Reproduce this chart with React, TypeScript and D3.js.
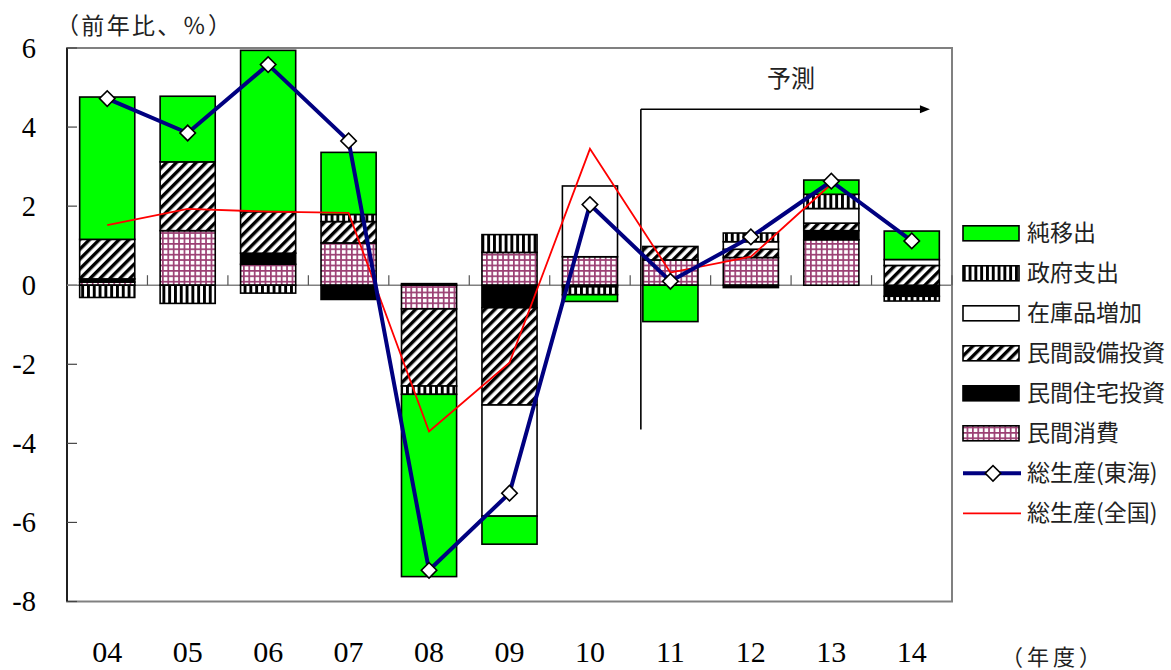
import React from "react";
import * as d3 from "d3";

// Fiscal years (年度)
const years = ["04", "05", "06", "07", "08", "09", "10", "11", "12", "13", "14"];

// Contributions to growth (percentage points), stacked in this order
const consumption = [0.08, 1.38, 0.53, 1.07, -0.6, 0.83, 0.72, 0.64, 0.7, 1.15, 0];
const housing = [0.08, 0, 0.28, -0.36, 0, -0.57, -0.04, 0, -0.06, 0.23, -0.28];
const capex = [1.0, 1.74, 1.05, 0.54, -1.95, -2.46, 0, 0.34, 0.21, 0.19, 0.5];
const inventory = [0, 0, 0, 0, 0.04, -2.81, 1.79, 0, 0.19, 0.37, 0.15];
const government = [-0.31, -0.46, -0.2, 0.18, -0.21, 0.45, -0.2, 0, 0.22, 0.36, -0.12];
const netExports = [3.6, 1.66, 4.08, 1.57, -4.61, -0.71, -0.17, -0.92, 0, 0.36, 0.72];

// Gross production growth (%)
const tokaiGrowth = [4.72, 3.85, 5.58, 3.65, -7.21, -5.26, 2.04, 0.1, 1.22, 2.63, 1.12];
const nationalGrowth = [1.52, 1.93, 1.86, 1.83, -3.7, -1.96, 3.45, 0.32, 0.72, 2.56];

const yTicks = [6, 4, 2, 0, -2, -4, -6, -8];

const seriesKeys = ["consumption", "housing", "capex", "inventory", "government", "netExports"];
const seriesLabels: Record<string, string> = {
  consumption: "民間消費",
  housing: "民間住宅投資",
  capex: "民間設備投資",
  inventory: "在庫品増加",
  government: "政府支出",
  netExports: "純移出",
};
const seriesFill: Record<string, string> = {
  consumption: "url(#pat-grid)",
  housing: "#000000",
  capex: "url(#pat-diag)",
  inventory: "#ffffff",
  government: "url(#pat-vert)",
  netExports: "#00ff00",
};

const table = years.map((yr, i) => ({
  year: yr,
  consumption: consumption[i],
  housing: housing[i],
  capex: capex[i],
  inventory: inventory[i],
  government: government[i],
  netExports: netExports[i],
}));

const W = 1171;
const H = 670;
const plot = { left: 67, right: 952, top: 48, bottom: 601.5 };

const JP = "'Noto Sans CJK JP', 'Noto Sans', sans-serif";
const SERIF = "'Liberation Serif', 'DejaVu Serif', serif";

export default function App() {
  const x = d3
    .scaleBand<string>()
    .domain(years)
    .range([plot.left, plot.right])
    .paddingInner(0.315)
    .paddingOuter(0.1575);
  const y = d3.scaleLinear().domain([-8, 6]).range([plot.bottom, plot.top]);
  const bw = x.bandwidth();
  const cx = (yr: string) => (x(yr) as number) + bw / 2;
  const step = x.step();

  const stacked = d3
    .stack<any>()
    .keys(seriesKeys)
    .offset(d3.stackOffsetDiverging)(table);

  const tokaiLine = d3
    .line<number>()
    .x((_, i) => cx(years[i]))
    .y((d) => y(d));
  const nationalLine = d3
    .line<number>()
    .x((_, i) => cx(years[i]))
    .y((d) => y(d));

  const diamond = d3.symbol().type(d3.symbolSquare).size(120)() as string;

  // forecast annotation, positioned in data space
  const fcX = (x("11") as number) - 2;
  const fcY = y(4.45);
  const fcBottom = y(-3.65);
  const fcEnd = (x("14") as number) + bw * 0.83;

  const legendX = 963;
  const legendSw = 56;
  const legendRows = [...seriesKeys].reverse();

  return (
    <div style={{ position: "fixed", left: 0, top: 0 }}>
      <svg width={W} height={H} style={{ display: "block", background: "#fff" }}>
        <defs>
          <pattern id="pat-grid" patternUnits="userSpaceOnUse" width={5.4} height={5.4}>
            <rect width={5.4} height={5.4} fill="#ffffff" />
            <rect x={0} y={0} width={1.7} height={5.4} fill="#9b3f73" />
            <rect x={0} y={0} width={5.4} height={1.7} fill="#9b3f73" />
          </pattern>
          <pattern id="pat-vert" patternUnits="userSpaceOnUse" width={5.8} height={10}>
            <rect width={5.8} height={10} fill="#ffffff" />
            <rect x={0} y={0} width={2.9} height={10} fill="#000000" />
          </pattern>
          <pattern
            id="pat-diag"
            patternUnits="userSpaceOnUse"
            width={7}
            height={10}
            patternTransform="rotate(45)"
          >
            <rect width={7} height={10} fill="#ffffff" />
            <rect x={0} y={0} width={3.4} height={10} fill="#000000" />
          </pattern>
        </defs>

        {/* unit label */}
        <text
          x={56}
          y={34}
          fontFamily={JP}
          fontSize={23}
          fill="#222"
          textLength={175}
          lengthAdjust="spacing"
        >
          （前年比、％）
        </text>

        {/* plot frame */}
        <rect
          x={plot.left}
          y={plot.top}
          width={plot.right - plot.left}
          height={plot.bottom - plot.top}
          fill="none"
          stroke="#808080"
          strokeWidth={2}
        />
        <line x1={plot.left} x2={plot.left} y1={plot.top} y2={plot.bottom} stroke="#000" strokeWidth={1.5} />

        {/* y axis ticks and labels */}
        {yTicks.map((t) => (
          <g key={t}>
            <line x1={plot.left} x2={plot.left + 10} y1={y(t)} y2={y(t)} stroke="#444" strokeWidth={1.2} />
            <text
              x={36}
              y={y(t) + 9.6}
              textAnchor="end"
              fontFamily={SERIF}
              fontSize={28.5}
              fill="#000"
            >
              {t}
            </text>
          </g>
        ))}

        {/* zero line with category ticks */}
        <line x1={plot.left} x2={plot.right} y1={y(0)} y2={y(0)} stroke="#808080" strokeWidth={1.5} />
        {years.slice(1).map((yr) => (
          <line
            key={yr}
            x1={(x(yr) as number) - (step - bw) / 2}
            x2={(x(yr) as number) - (step - bw) / 2}
            y1={y(0)}
            y2={y(0) - 10}
            stroke="#555"
            strokeWidth={1.2}
          />
        ))}
        <line x1={plot.right} x2={plot.right} y1={y(0)} y2={y(0) - 10} stroke="#555" strokeWidth={1.2} />

        {/* stacked contribution bars */}
        {stacked.map((layer) =>
          layer.map((seg, i) => {
            const v = (table[i] as any)[layer.key];
            if (!v) return null;
            const top = y(Math.max(seg[0], seg[1]));
            const bot = y(Math.min(seg[0], seg[1]));
            return (
              <rect
                key={layer.key + i}
                x={x(years[i]) as number}
                y={top}
                width={bw}
                height={bot - top}
                fill={seriesFill[layer.key]}
                stroke="#000"
                strokeWidth={1.6}
              />
            );
          })
        )}

        {/* forecast marker */}
        <line x1={fcX} x2={fcX} y1={fcY} y2={fcBottom} stroke="#000" strokeWidth={1.6} />
        <line x1={fcX} x2={fcEnd - 8} y1={fcY} y2={fcY} stroke="#000" strokeWidth={1.6} />
        <path d={`M${fcEnd},${fcY} L${fcEnd - 10},${fcY - 4} L${fcEnd - 10},${fcY + 4} Z`} fill="#000" />
        <text
          x={(cx("12") + cx("13")) / 2}
          y={y(5.25) + 9}
          textAnchor="middle"
          fontFamily={JP}
          fontSize={24}
          fill="#222"
        >
          予測
        </text>

        {/* national growth line */}
        <path d={nationalLine(nationalGrowth) as string} fill="none" stroke="#ff0000" strokeWidth={1.8} />

        {/* Tokai growth line with diamond markers */}
        <path d={tokaiLine(tokaiGrowth) as string} fill="none" stroke="#000080" strokeWidth={4} strokeLinejoin="round" />
        {tokaiGrowth.map((v, i) => (
          <path
            key={i}
            d={diamond}
            transform={`translate(${cx(years[i])},${y(v)}) rotate(45)`}
            fill="#ffffff"
            stroke="#000"
            strokeWidth={1.6}
          />
        ))}

        {/* x labels */}
        {years.map((yr) => (
          <text
            key={yr}
            x={cx(yr)}
            y={662}
            textAnchor="middle"
            fontFamily={SERIF}
            fontSize={30}
            fill="#000"
          >
            {yr}
          </text>
        ))}
        <text
          x={1001}
          y={665}
          fontFamily={JP}
          fontSize={22}
          fill="#222"
          textLength={100}
          lengthAdjust="spacing"
        >
          （年度）
        </text>

        {/* legend */}
        {legendRows.map((k, i) => {
          const cy = 233.3 + i * 40;
          return (
            <g key={k}>
              <rect
                x={legendX}
                y={cy - 7.5}
                width={legendSw}
                height={15}
                fill={seriesFill[k]}
                stroke="#000"
                strokeWidth={1.6}
              />
              <text x={1027} y={cy + 8} fontFamily={JP} fontSize={23} fill="#222">
                {seriesLabels[k]}
              </text>
            </g>
          );
        })}
        <g>
          <line x1={legendX} x2={legendX + 58} y1={473.3} y2={473.3} stroke="#000080" strokeWidth={4} />
          <path
            d={diamond}
            transform={`translate(${legendX + 30},473.3) rotate(45)`}
            fill="#fff"
            stroke="#000"
            strokeWidth={1.6}
          />
          <text x={1027} y={473.3 + 8} fontFamily={JP} fontSize={23} fill="#222">
            総生産(東海)
          </text>
        </g>
        <g>
          <line x1={legendX} x2={legendX + 58} y1={513.3} y2={513.3} stroke="#ff0000" strokeWidth={1.8} />
          <text x={1027} y={513.3 + 8} fontFamily={JP} fontSize={23} fill="#222">
            総生産(全国)
          </text>
        </g>
      </svg>
    </div>
  );
}
